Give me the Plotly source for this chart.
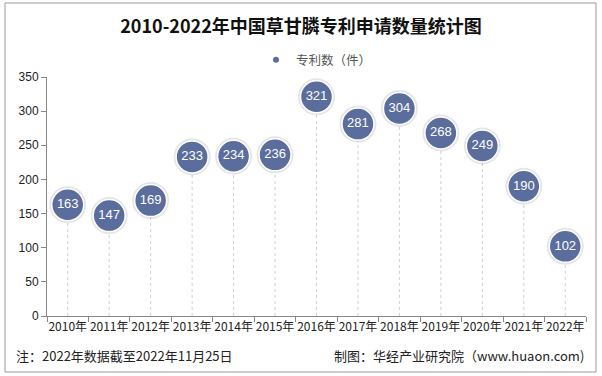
import plotly.graph_objects as go

years = ["2010年", "2011年", "2012年", "2013年", "2014年", "2015年", "2016年",
         "2017年", "2018年", "2019年", "2020年", "2021年", "2022年"]
values = [163, 147, 169, 233, 234, 236, 321, 281, 304, 268, 249, 190, 102]
y_ticks = [0, 50, 100, 150, 200, 250, 300, 350]

FONT = "Noto Sans CJK SC"

fig = go.Figure()

# outer border
fig.add_shape(type="rect", xref="paper", yref="paper", x0=-42/539, x1=1+10/539,
              y0=-56/239, y1=1+74/239, line=dict(color="#999", width=1), layer="above")

# drop lines
for yr, v in zip(years, values):
    fig.add_shape(type="line", xref="x", yref="y", x0=yr, x1=yr, y0=0, y1=v,
                  line=dict(color="#d0d0d0", width=1, dash="3px,3px"), layer="below")

# soft shadow
fig.add_trace(go.Scatter(
    x=years, y=values, mode="markers", showlegend=False, hoverinfo="skip",
    marker=dict(size=37, color="rgba(0,0,0,0.10)", line=dict(width=0)),
))

fig.add_trace(go.Scatter(
    x=years, y=values, mode="markers+text", name="专利数（件）",
    text=[str(v) for v in values], textposition="middle center",
    textfont=dict(color="white", size=13, family="Liberation Sans"),
    marker=dict(size=32, color="#5a6d9c", line=dict(color="white", width=1.5)),
    showlegend=False,
))
# legend entry
fig.add_trace(go.Scatter(
    x=[None], y=[None], mode="markers", name="专利数（件）",
    marker=dict(size=6, color="#5a6d9c"),
))

fig.update_layout(
    width=602, height=376,
    margin=dict(l=47, r=16, t=77, b=60, autoexpand=False),
    paper_bgcolor="white", plot_bgcolor="white",
    font=dict(family=FONT, color="#222"),
    title=dict(text="<b>2010-2022年中国草甘膦专利申请数量统计图</b>", x=0.5, xanchor="center",
               y=1 - 27/376, yanchor="middle", font=dict(size=18, color="#111", family=FONT)),
    legend=dict(orientation="h", x=0.5, xanchor="center", yref="container", y=1 - 60/376,
                yanchor="middle", font=dict(size=12.5, color="#555", family=FONT),
                itemwidth=30, tracegroupgap=0),
    xaxis=dict(type="category", showline=True, linecolor="#888", linewidth=1,
               ticks="outside", ticklen=5, tickcolor="#888", tickson="boundaries",
               tickangle=0, automargin=False,
               tickfont=dict(size=12, color="#222", family="Liberation Sans Narrow, " + FONT),
               showgrid=False, range=[-0.5, 12.5]),
    yaxis=dict(range=[0, 350], tickvals=y_ticks, showline=True, linecolor="#888",
               ticks="outside", ticklen=5, tickcolor="#888", showgrid=False, automargin=False,
               tickfont=dict(size=12, color="#222", family="Liberation Sans"), zeroline=False),
)

fig.add_annotation(text="注：2022年数据截至2022年11月25日", xref="paper", yref="paper",
                   x=-33/539, y=-39/239, xanchor="left", yanchor="middle", showarrow=False,
                   font=dict(size=13, color="#222", family=FONT))
fig.add_annotation(text="制图：华经产业研究院（www.huaon.com)", xref="paper", yref="paper",
                   x=1, y=-39/239, xanchor="right", yanchor="middle", showarrow=False,
                   font=dict(size=13, color="#222", family=FONT))

fig.write_html("out.html", config={"displayModeBar": False},
               post_script="document.body.style.margin='0';")
